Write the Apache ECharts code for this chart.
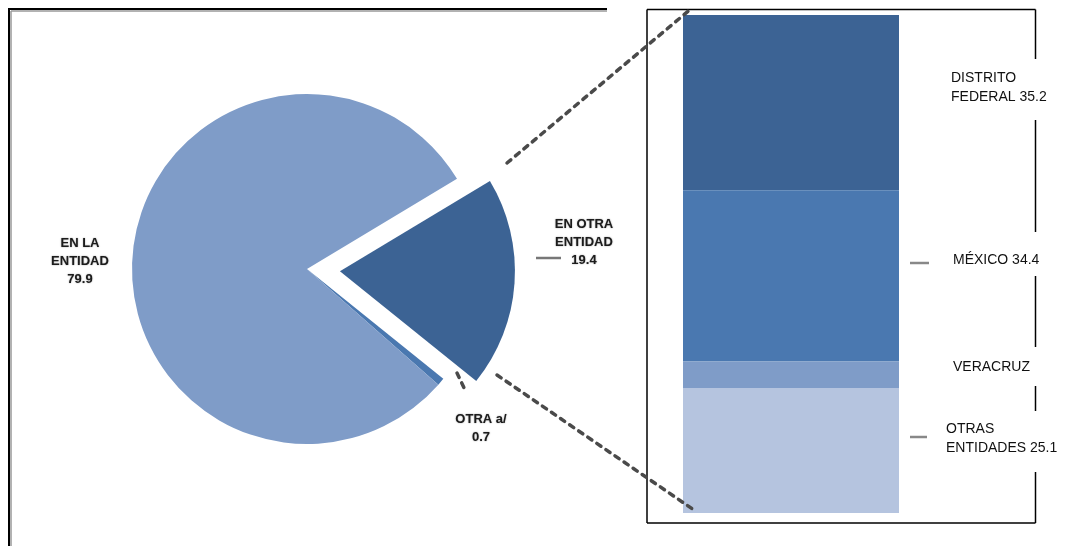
<!DOCTYPE html>
<html>
<head>
<meta charset="utf-8">
<script src="https://cdn.jsdelivr.net/npm/echarts@6/dist/echarts.min.js"></script>
<style>
  html, body { margin: 0; padding: 0; background: #fff; }
  #chart { width: 1071px; height: 546px; }
</style>
</head>
<body>
<div id="chart"></div>
<script>
// Lugar de residencia: distribución general (pastel) y desglose de "otra entidad" (barra)
const pieNames = ['EN OTRA\nENTIDAD', 'OTRA a/', 'EN LA\nENTIDAD'];
const pieValues = [19.4, 0.7, 79.9];

const barNames = ['DISTRITO\nFEDERAL', 'MÉXICO', 'VERACRUZ', 'OTRAS\nENTIDADES'];
const barValues = [35.2, 34.4, 5.3, 25.1];
const barShowValue = [true, true, false, true];

const pieColors = ['#3c6394', '#4a78b0', '#7f9cc8'];
const barColors = ['#3c6394', '#4a78b0', '#7f9cc8', '#b5c4df'];

// Posición de las etiquetas del pastel (centro del bloque de texto)
const pieLabelPos = [
  { x: 584, y: 242 },
  { x: 481, y: 428 },
  { x: 80, y: 261 }
];

// Desplazamiento de las etiquetas de la barra respecto al borde derecho del segmento
const barLabelDist = [52, 54, 54, 47];
const barLabelDy = [-15, -16, -8, -12];

const pieFont = {
  fontFamily: 'Liberation Sans, Arial, sans-serif',
  fontWeight: 'bold',
  fontSize: 13,
  lineHeight: 18,
  color: '#1c1c1c',
  textShadowColor: 'rgba(0,0,0,0.45)',
  textShadowBlur: 1.5
};

const chart = echarts.init(document.getElementById('chart'), null, { renderer: 'canvas' });

const dashStyle = { stroke: '#4a4a4a', lineWidth: 3.5, lineDash: [5, 6], lineCap: 'round' };
const frameStyle = { stroke: '#000', lineWidth: 2 };
const boxStyle = { stroke: '#000', lineWidth: 1.5 };
const tickStyle = { stroke: '#888', lineWidth: 2.5 };

function seg(x1, y1, x2, y2, style, z) {
  return { type: 'line', shape: { x1, y1, x2, y2 }, style, z: z || 10, silent: true };
}

function pieText(i) {
  return pieNames[i] + '\n' + pieValues[i].toFixed(1);
}

chart.setOption({
  animation: false,
  grid: { left: 683, right: 172, top: 15, bottom: 33 },
  xAxis: { type: 'category', data: ['OTRA ENTIDAD'], show: false },
  yAxis: { type: 'value', min: 0, max: 100, inverse: true, show: false },
  series: [
    {
      type: 'pie',
      center: [307, 269],
      radius: 175,
      startAngle: 31,
      clockwise: true,
      selectedMode: 'single',
      selectedOffset: 33,
      emphasis: { disabled: true },
      labelLine: { show: false },
      label: { show: false },
      data: pieNames.map((n, i) => ({
        name: n,
        value: pieValues[i],
        selected: i === 0,
        itemStyle: { color: pieColors[i], borderWidth: 0 }
      }))
    }
  ].concat(barNames.map((n, i) => ({
    type: 'bar',
    name: n,
    stack: 'otra',
    barWidth: '100%',
    emphasis: { disabled: true },
    itemStyle: { color: barColors[i] },
    label: {
      show: true,
      position: 'right',
      distance: barLabelDist[i],
      offset: [0, barLabelDy[i]],
      align: 'left',
      fontFamily: 'Liberation Sans, Arial, sans-serif',
      fontSize: 14,
      lineHeight: 19,
      color: '#111',
      formatter: p => barShowValue[i] ? p.seriesName + ' ' + p.value.toFixed(1) : p.seriesName
    },
    data: [barValues[i]]
  }))),
  graphic: [
    // marco izquierdo
    seg(9, 9, 9, 546, frameStyle),
    seg(8, 9, 607, 9, frameStyle),
    seg(11, 11, 11, 546, { stroke: '#999', lineWidth: 1.5 }),
    seg(11, 11, 607, 11, { stroke: '#999', lineWidth: 1.5 }),
    // recuadro derecho (borde derecho interrumpido por etiquetas)
    seg(647, 9.5, 1035.5, 9.5, boxStyle),
    seg(647, 9.5, 647, 523, boxStyle),
    seg(647, 523, 1035.5, 523, boxStyle),
    seg(1035.5, 9.5, 1035.5, 59, boxStyle),
    seg(1035.5, 120, 1035.5, 232, boxStyle),
    seg(1035.5, 276, 1035.5, 347, boxStyle),
    seg(1035.5, 386, 1035.5, 411, boxStyle),
    seg(1035.5, 472, 1035.5, 523, boxStyle),
    // marcas junto a las etiquetas
    seg(910, 263, 929, 263, tickStyle),
    seg(910, 437, 927, 437, tickStyle),
    seg(536, 258, 561, 258, { stroke: '#777', lineWidth: 2.5 }),
    // líneas de conexión punteadas
    seg(507, 163, 692, 8, dashStyle, 20),
    seg(497, 375, 694, 510, dashStyle, 20),
    seg(457, 373, 466, 392, dashStyle, 20)
  ].concat(pieNames.map((n, i) => ({
    // etiquetas del pastel, con el texto tomado de los datos
    type: 'text',
    x: pieLabelPos[i].x,
    y: pieLabelPos[i].y,
    z: 30,
    silent: true,
    style: Object.assign({
      text: pieText(i),
      align: 'center',
      verticalAlign: 'middle',
      fill: pieFont.color,
      font: 'bold 13px "Liberation Sans", Arial, sans-serif'
    }, {
      lineHeight: pieFont.lineHeight,
      textShadowColor: pieFont.textShadowColor,
      textShadowBlur: pieFont.textShadowBlur
    })
  })))
});
</script>
</body>
</html>
